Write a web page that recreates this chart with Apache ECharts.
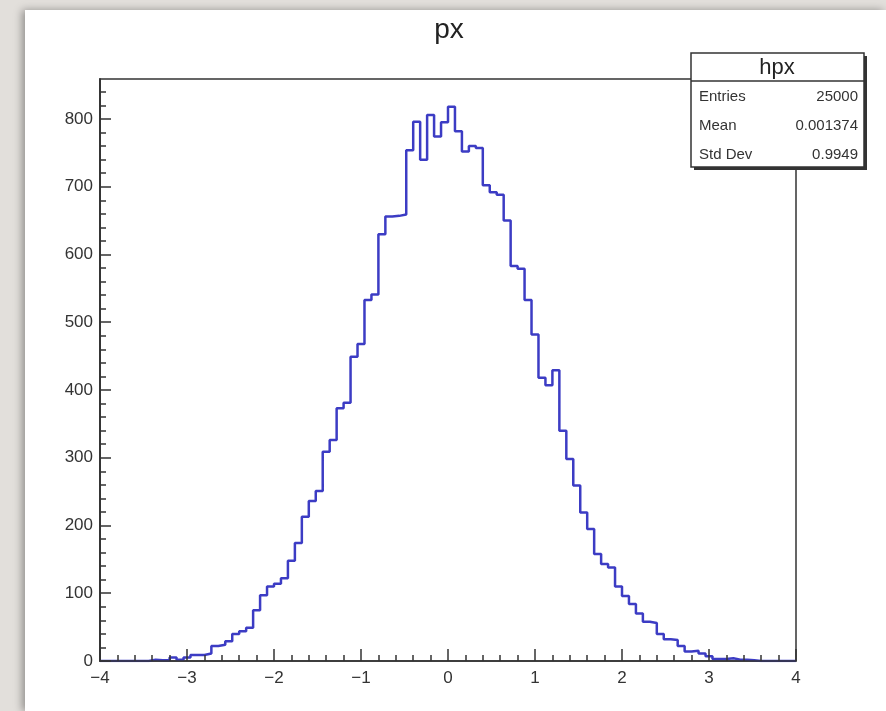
<!DOCTYPE html>
<html><head><meta charset="utf-8">
<script src="https://cdn.jsdelivr.net/npm/echarts@6/dist/echarts.min.js"></script>
<style>
html,body{margin:0;padding:0;width:886px;height:711px;overflow:hidden;background:#e2dfdb;}
#panel{position:absolute;left:25px;top:10px;width:861px;height:701px;background:#fff;box-shadow:-3px 0 8px rgba(0,0,0,0.35);}
#chart{position:absolute;left:0;top:0;width:886px;height:711px;}
</style></head><body><div id="panel"></div><div id="chart"></div>
<script>
// ---- data ----
const xMin = -4, xMax = 4, nBins = 100;
const binCounts = [
  0,0,0,0,0,0,0,
  2,1,1,5,2,5,9,9,11,22,24,29,40,44,49,
  75,97,110,114,122,148,174,213,236,251,309,326,373,381,449,468,
  533,541,630,656,657,659,754,796,740,806,774,795,818,782,752,
  760,757,702,692,688,650,583,579,533,482,418,407,429,340,298,259,219,195,
  158,143,138,110,96,84,70,58,56,40,32,31,22,14,15,11,7,3,3,4,2,2,1,
  0,0,0,0,0,0
];
const xTickValues = [-4,-3,-2,-1,0,1,2,3,4];
const yTickValues = [0,100,200,300,400,500,600,700,800];
const yMinorValues = [0,20,40,60,80,100,120,140,160,180,200,220,240,260,280,300,320,340,360,380,400,420,440,460,480,500,520,540,560,580,600,620,640,660,680,700,720,740,760,780,800,820,840];
const yMax = 859;
const titleText = 'px';
const statsName = 'hpx';
const statsLabels = ['Entries', 'Mean', 'Std Dev'];
const statsValues = ['25000', '0.001374', '0.9949'];

// ---- build step outline from bin edges ----
const binWidth = (xMax - xMin) / nBins;
const outline = [];
for (let i = 0; i < binCounts.length; i++) outline.push([xMin + i * binWidth, binCounts[i]]);
outline.push([xMax, binCounts[binCounts.length - 1]]);

const FONT = 'Liberation Sans, Arial, Helvetica, sans-serif';
const AX = '#333';
const minus = v => (v < 0 ? '\u2212' + (-v) : String(v));

const chart = echarts.init(document.getElementById('chart'), null, {renderer: 'canvas'});
const rowY = [97, 126, 155];
const graphics = [
  {type: 'text', x: 449, y: 30, z: 100, style: {text: titleText, font: '28px ' + FONT, fill: '#222', textAlign: 'center', textVerticalAlign: 'middle'}},
  {type: 'rect', z: 99, shape: {x: 694, y: 56, width: 173, height: 114}, style: {fill: '#333'}},
  {type: 'rect', z: 100, shape: {x: 691, y: 53, width: 173, height: 114}, style: {fill: '#fff', stroke: '#333', lineWidth: 1.5}},
  {type: 'line', z: 101, shape: {x1: 691, y1: 81, x2: 864, y2: 81}, style: {stroke: '#333', lineWidth: 1.5}},
  {type: 'text', x: 777, y: 68, z: 101, style: {text: statsName, font: '22px ' + FONT, fill: '#222', textAlign: 'center', textVerticalAlign: 'middle'}}
];
statsLabels.forEach((lab, k) => {
  graphics.push({type: 'text', x: 699, y: rowY[k], z: 101, style: {text: lab, font: '15px ' + FONT, fill: '#333', textAlign: 'left', textVerticalAlign: 'middle'}});
  graphics.push({type: 'text', x: 858, y: rowY[k], z: 101, style: {text: statsValues[k], font: '15px ' + FONT, fill: '#333', textAlign: 'right', textVerticalAlign: 'middle'}});
});

chart.setOption({
  animation: false,
  backgroundColor: 'transparent',
  grid: {left: 100, right: 90, top: 79, bottom: 50, show: true, borderColor: AX, borderWidth: 1.5, containLabel: false},
  xAxis: {
    type: 'value', min: xMin, max: xMax, interval: 1, z: 5,
    axisLine: {show: true, onZero: false, lineStyle: {color: AX, width: 1.5}},
    axisTick: {show: true, inside: true, length: 12, lineStyle: {color: AX, width: 1.5}},
    minorTick: {show: true, splitNumber: 5, length: 6, lineStyle: {color: AX, width: 1.5}},
    axisLabel: {show: true, margin: 9, fontSize: 17, color: '#333', fontFamily: FONT, formatter: minus},
    splitLine: {show: false}, minorSplitLine: {show: false}
  },
  yAxis: [
    {
      type: 'value', min: 0, max: yMax, position: 'left', z: 5,
      axisLine: {show: true, onZero: false, lineStyle: {color: AX, width: 1.5}},
      axisTick: {show: true, inside: true, length: 11, customValues: yTickValues, lineStyle: {color: AX, width: 1.5}},
      axisLabel: {show: true, margin: 7, fontSize: 17, color: '#333', fontFamily: FONT, customValues: yTickValues},
      splitLine: {show: false}
    },
    {
      type: 'value', min: 0, max: yMax, position: 'left', offset: 0, z: 5,
      axisLine: {show: true, onZero: false, lineStyle: {color: AX, width: 1.5}},
      axisTick: {show: true, inside: true, length: 6, customValues: yMinorValues, lineStyle: {color: AX, width: 1.5}},
      axisLabel: {show: false},
      splitLine: {show: false}
    }
  ],
  series: [{
    type: 'line', step: 'end', data: outline, symbol: 'none', z: 2,
    lineStyle: {color: '#3c3cc4', width: 2.5}
  }],
  graphic: graphics
});
</script></body></html>
